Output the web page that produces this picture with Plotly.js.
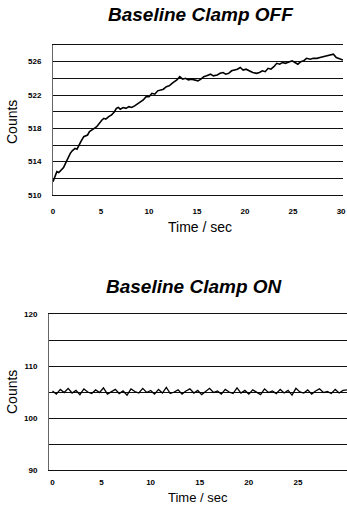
<!DOCTYPE html>
<html>
<head>
<meta charset="utf-8">
<script src="https://cdn.plot.ly/plotly-3.0.1.min.js"></script>
<style>html,body{margin:0;padding:0;background:#fff;overflow:hidden;}#chart{width:347px;height:508px;}</style>
</head>
<body>
<div id="chart"></div>
<script>
// ---- Data: Baseline Clamp OFF ----
var offTime = [0,0.2,0.4,0.6,0.9,1.1,1.3,1.5,1.8,2.0,2.3,2.5,2.7,2.9,3.2,3.4,3.6,3.8,4.0,4.3,4.55,4.8,5.1,5.3,5.5,5.8,6.1,6.4,6.6,6.8,7.0,7.3,7.6,7.9,8.2,8.5,8.8,9.1,9.4,9.7,10.0,10.3,10.6,10.9,11.2,11.5,11.8,12.1,12.4,12.7,12.9,13.2,13.5,13.8,14.1,14.4,14.7,15.1,15.4,15.7,16.0,16.4,16.7,17.1,17.4,17.7,18.0,18.3,18.6,18.9,19.2,19.5,19.8,20.1,20.5,20.8,21.2,21.5,21.8,22.1,22.4,22.7,23.0,23.3,23.6,23.9,24.2,24.5,24.9,25.2,25.5,25.8,26.1,26.4,26.8,27.1,27.5,27.8,28.1,28.5,28.8,29.2,29.5,29.8,30.2];
var offCounts = [511.6,512.2,512.8,512.7,513.0,513.3,513.8,514.3,515.0,515.3,515.6,515.5,516.0,516.4,517.0,517.1,517.2,517.6,517.8,518.0,518.2,518.6,519.0,519.2,519.1,519.4,519.6,520.0,520.4,520.5,520.3,520.5,520.4,520.6,520.5,520.7,520.9,521.2,521.4,521.8,521.8,522.2,522.1,522.5,522.6,522.7,523.0,523.1,523.4,523.6,523.8,524.2,523.9,524.0,523.8,523.9,523.8,523.7,523.9,524.2,524.3,524.5,524.3,524.4,524.6,524.7,524.5,524.6,524.9,525.0,525.1,525.3,525.0,525.1,524.9,524.7,524.6,524.7,524.9,524.8,525.2,525.1,525.4,525.8,525.7,525.9,525.8,525.9,526.1,525.9,525.7,526.0,526.1,526.4,526.3,526.4,526.4,526.5,526.6,526.7,526.8,526.9,526.5,526.4,526.2];

// ---- Data: Baseline Clamp ON ----
var onTime = [0,0.4,0.8,1.2,1.6,2,2.4,2.8,3.2,3.6,4,4.4,4.8,5.2,5.6,6,6.4,6.8,7.2,7.6,8,8.4,8.8,9.2,9.6,10,10.4,10.8,11.2,11.6,12,12.4,12.8,13.2,13.6,14,14.4,14.8,15.2,15.6,16,16.4,16.8,17.2,17.6,18,18.4,18.8,19.2,19.6,20,20.4,20.8,21.2,21.6,22,22.4,22.8,23.2,23.6,24,24.4,24.8,25.2,25.6,26,26.4,26.8,27.2,27.6,28,28.4,28.8,29.2,29.6,30];
var onCounts = [105.2,104.6,105.5,104.9,105.7,104.8,105.3,104.5,105.6,105.0,
104.7,105.4,104.9,105.8,104.6,105.1,105.5,104.7,105.2,104.4,
105.6,105.1,104.8,105.7,104.9,105.3,104.6,105.5,104.8,105.9,
104.7,105.0,105.4,104.6,105.2,105.6,104.8,105.3,104.5,105.1,
105.7,104.9,105.2,104.6,105.5,105.0,104.7,105.8,104.8,105.3,
104.6,105.4,105.0,104.5,105.6,104.9,105.2,104.7,105.5,104.8,
105.3,104.4,105.7,105.0,104.8,105.4,104.6,105.2,105.6,104.9,
105.1,104.7,105.5,104.8,105.3,105.4];

// ---- Tick labels ----
var xTicks = [0,5,10,15,20,25,30];
var xTickText = ['0','5','10','15','20','25','30'];
var offYTickVals = [510,512,514,516,518,520,522,524,526,528];
var offYTickText = ['510','','514','','518','','522','','526',''];
var onYTickVals = [90,95,100,105,110,115,120];
var onYTickText = ['90','','100','','110','','120'];

var titleOff = 'Baseline Clamp OFF';
var titleOn = 'Baseline Clamp ON';
var xTitle = 'Time / sec';
var yTitle = 'Counts';

var W = 347, H = 508;
var FONT = 'Liberation Sans, Arial, sans-serif';
var tickFont = {family: FONT, size: 8, color: '#000', weight: 700};
var gridCol = '#111';

function px(x){return x / W;}
function py(y){return 1 - y / H;}
function bold(a){return a.map(function(s){return s ? '<b>' + s + '</b>' : '';});}

var traces = [
  {x: offTime, y: offCounts, type: 'scatter', mode: 'lines', xaxis: 'x', yaxis: 'y',
   line: {color: '#000', width: 1.6}, hoverinfo: 'skip'},
  {x: onTime, y: onCounts, type: 'scatter', mode: 'lines', xaxis: 'x2', yaxis: 'y2',
   line: {color: '#000', width: 1.3}, hoverinfo: 'skip'}
];

function xAxis(domain, range, anchor, standoff){
  return {domain: domain, range: range, anchor: anchor, tickmode: 'array', tickvals: xTicks,
    ticktext: bold(xTickText), automargin: false,
    ticks: '', showgrid: false, zeroline: false, showline: true, mirror: true,
    linecolor: gridCol, linewidth: 1, tickfont: tickFont, ticklabelstandoff: standoff};
}
function yAxis(domain, range, anchor, vals, text){
  return {domain: domain, range: range, anchor: anchor, tickmode: 'array', tickvals: vals,
    ticktext: bold(text), automargin: false,
    ticks: '', showgrid: true, gridcolor: gridCol, gridwidth: 1, zeroline: false,
    showline: true, linecolor: '#666', linewidth: 1, tickfont: tickFont, ticklabelstandoff: 9};
}

var axisTitleFont = {family: FONT, size: 14, color: '#000'};
var mainTitleFont = {family: FONT, size: 19, color: '#000'};

var layout = {
  width: W, height: H,
  margin: {l: 0, r: 0, t: 0, b: 0},
  paper_bgcolor: '#fff', plot_bgcolor: '#fff',
  showlegend: false,
  xaxis: xAxis([px(53), px(343)], [0, 30.2], 'y', 8),
  yaxis: yAxis([py(195), py(45)], [510, 528], 'x', offYTickVals, offYTickText),
  xaxis2: xAxis([px(49), 1], [-0.35, 30], 'y2', 4),
  yaxis2: yAxis([py(470), py(314)], [90, 120], 'x2', onYTickVals, onYTickText),
  annotations: [
    {text: '<b><i>' + titleOff + '</i></b>', xref: 'paper', yref: 'paper', x: px(201), y: py(15),
     xanchor: 'center', yanchor: 'middle', showarrow: false, font: mainTitleFont},
    {text: '<b><i>' + titleOn + '</i></b>', xref: 'paper', yref: 'paper', x: px(194), y: py(286),
     xanchor: 'center', yanchor: 'middle', showarrow: false, font: mainTitleFont},
    {text: xTitle, xref: 'paper', yref: 'paper', x: px(200), y: py(227),
     xanchor: 'center', yanchor: 'middle', showarrow: false, font: axisTitleFont},
    {text: xTitle, xref: 'paper', yref: 'paper', x: px(198), y: py(497),
     xanchor: 'center', yanchor: 'middle', showarrow: false, font: {family: FONT, size: 13, color: '#000'}},
    {text: yTitle, xref: 'paper', yref: 'paper', x: px(12), y: py(122), textangle: -90,
     xanchor: 'center', yanchor: 'middle', showarrow: false, font: axisTitleFont},
    {text: yTitle, xref: 'paper', yref: 'paper', x: px(12), y: py(392), textangle: -90,
     xanchor: 'center', yanchor: 'middle', showarrow: false, font: axisTitleFont}
  ]
};

Plotly.newPlot('chart', traces, layout, {staticPlot: true, displayModeBar: false});
</script>
</body>
</html>
